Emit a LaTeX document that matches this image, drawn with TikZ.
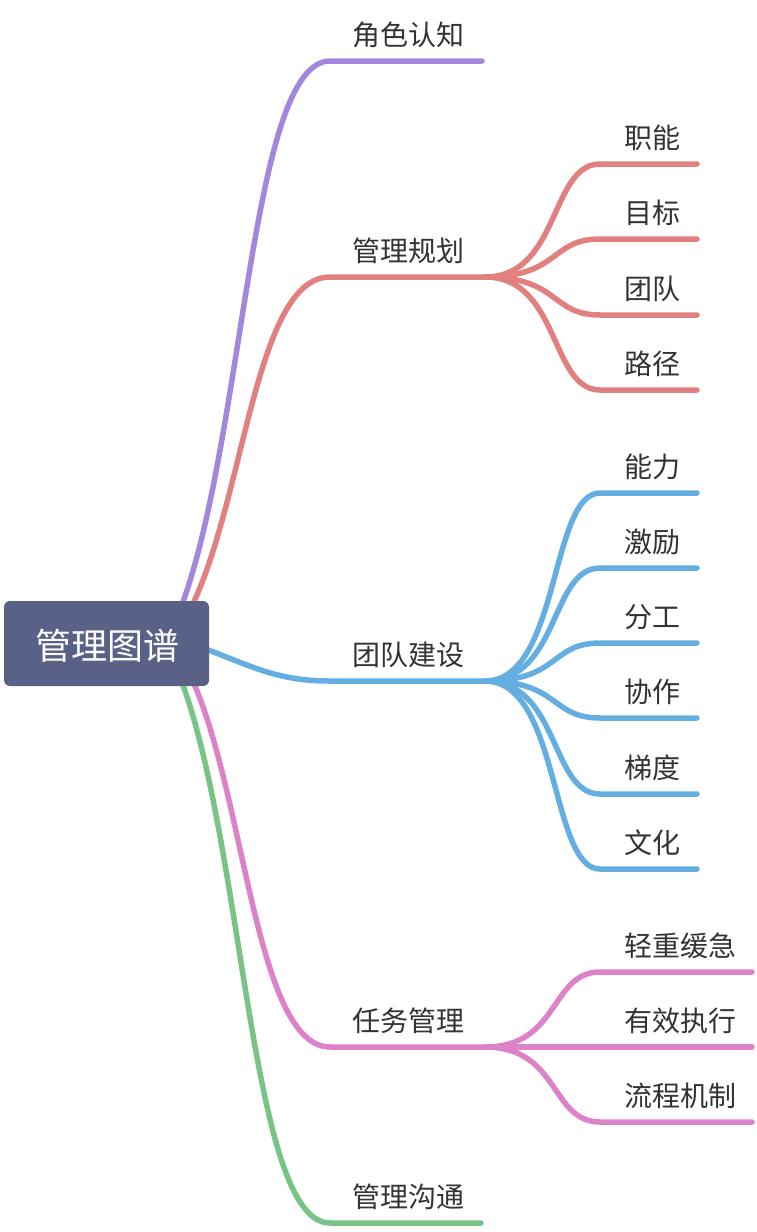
\documentclass[tikz,border=0pt]{standalone}
\usepackage{fontspec}
\setmainfont{Noto Sans CJK SC}
\definecolor{cpurp}{HTML}{A188DD}
\definecolor{cred}{HTML}{E2807F}
\definecolor{cblue}{HTML}{65AEE2}
\definecolor{cpink}{HTML}{DD82C8}
\definecolor{cgreen}{HTML}{78C485}
\definecolor{croot}{HTML}{5A6186}
\definecolor{ctext}{HTML}{333333}
\begin{document}
\begin{tikzpicture}[x=1pt,y=-1pt,
  conn/.style={line width=5.5pt,line cap=round},
  lvl/.style={anchor=base west,inner sep=0pt,text=ctext,font=\fontsize{28}{28}\selectfont},
  rootbox/.style={fill=croot,rounded corners=6pt,minimum width=205pt,minimum height=85pt,inner sep=0pt}]
\useasboundingbox (0,0) rectangle (756,1232);

% ---------- root anchor points (hidden behind root box)
\coordinate (s1) at (180,610);
\coordinate (s2) at (190,610);
\coordinate (s3) at (200,647);
\coordinate (s4) at (190,675);
\coordinate (s5) at (180,677);

% ---------- level-1 coordinates
\coordinate (b1) at (330,61);   \coordinate (b1e) at (482,61);
\coordinate (b2) at (330,277);  \coordinate (f2) at (485,277);
\coordinate (b3) at (330,681);  \coordinate (f3) at (485,681);
\coordinate (b4) at (330,1047); \coordinate (f4) at (485,1047);
\coordinate (b5) at (330,1223); \coordinate (b5e) at (481,1223);

% ---------- level-1 connectors
\draw[conn,cpurp] (s1) .. controls (245,440) and (250,61) .. (b1) -- (b1e);
\draw[conn,cred] (s2) .. controls (245,500) and (255,277) .. (b2) -- (f2);
\draw[conn,cblue] (s3) .. controls (250,665) and (275,681) .. (b3) -- (f3);
\draw[conn,cpink] (s4) .. controls (245,790) and (255,1047) .. (b4) -- (f4);
\draw[conn,cgreen] (s5) .. controls (245,847) and (250,1223) .. (b5) -- (b5e);

% ---------- level-1 labels
\node[lvl] (t1) at (352,45) {角色认知};
\node[lvl] (t2) at (352,261) {管理规划};
\node[lvl] (t3) at (352,665) {团队建设};
\node[lvl] (t4) at (352,1031) {任务管理};
\node[lvl] (t5) at (352,1207) {管理沟通};

% ---------- red children
\foreach \n/\y/\txt in {a/164/职能, b/239/目标, c/315/团队, d/390/路径}{
  \coordinate (r\n) at (600,\y);
  \coordinate (r\n e) at (697,\y);
  \draw[conn,cred] (f2) .. controls (560,277) and (550,\y) .. (r\n) -- (r\n e);
  \node[lvl] (rt\n) at (624,\y-16) {\txt};
}

% ---------- blue children
\foreach \n/\y/\txt in {a/493/能力, b/568/激励, c/643/分工, d/718/协作, e/794/梯度, f/869/文化}{
  \coordinate (u\n) at (600,\y);
  \coordinate (u\n e) at (697,\y);
  \draw[conn,cblue] (f3) .. controls (560,681) and (550,\y) .. (u\n) -- (u\n e);
  \node[lvl] (ut\n) at (624,\y-16) {\txt};
}

% ---------- pink children
\foreach \n/\y/\txt in {a/972/轻重缓急, b/1047/有效执行, c/1122/流程机制}{
  \coordinate (k\n) at (600,\y);
  \coordinate (k\n e) at (752,\y);
  \draw[conn,cpink] (f4) .. controls (560,1047) and (550,\y) .. (k\n) -- (k\n e);
  \node[lvl] (kt\n) at (624,\y-16) {\txt};
}

% ---------- root
\node[rootbox] (r) at (106.5,643.5) {};
\node[anchor=base,inner sep=0pt,text=white,font=\fontsize{36}{36}\selectfont] (rt) at (107,659) {管理图谱};
\end{tikzpicture}
\end{document}
